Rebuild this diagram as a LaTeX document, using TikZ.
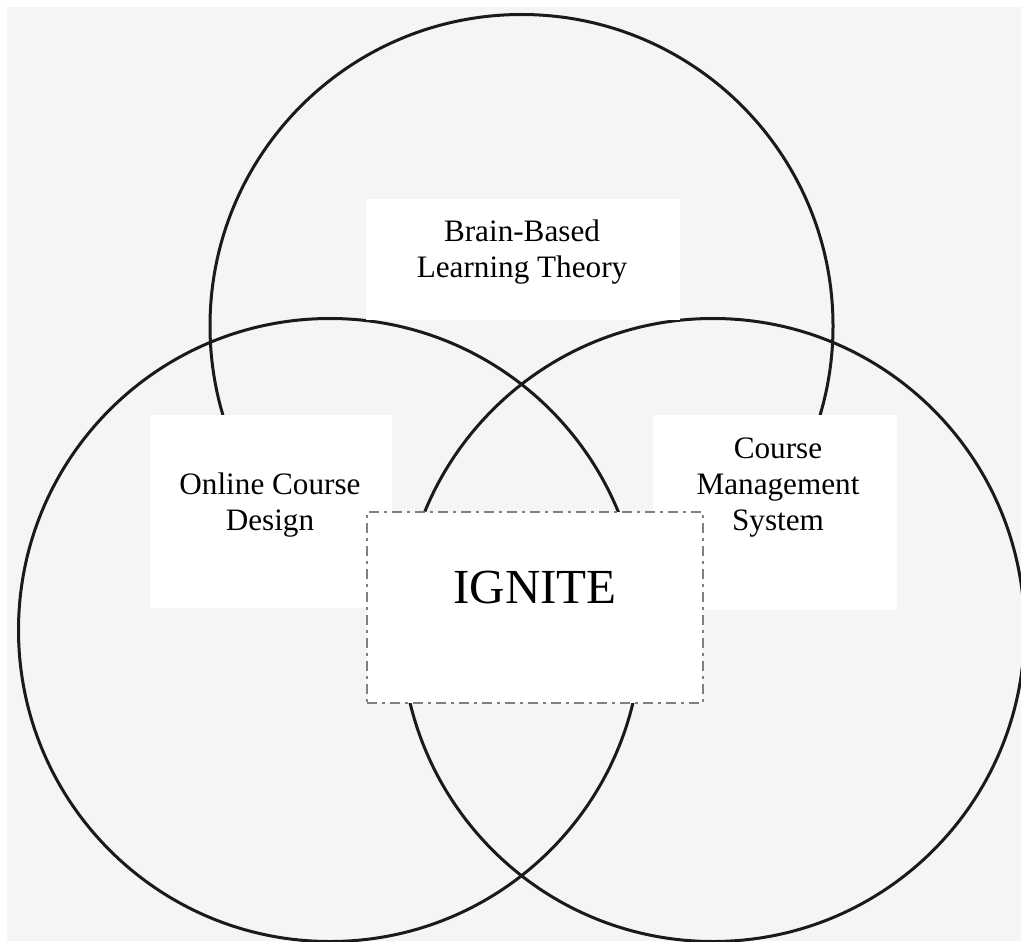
\documentclass[tikz,border=0pt]{standalone}
\usepackage{fontspec}
\setmainfont{Liberation Serif}
\definecolor{bggray}{HTML}{F5F5F5}
\definecolor{ringcol}{HTML}{1A1A1A}
\definecolor{dashgray}{HTML}{808080}
\begin{document}
\begin{tikzpicture}[x=0.5pt,y=-0.5pt,
  ring/.style={draw=ringcol, line width=1.5pt},
  whitebox/.style={fill=white, draw=none, inner sep=0pt},
  lbl/.style={font=\fontsize{15.6}{18}\selectfont, align=center, inner sep=0pt},
  ignitebox/.style={fill=white, draw=dashgray, line width=1pt, inner sep=0pt,
    dash pattern=on 5pt off 2.5pt on 1.5pt off 2.5pt},
  biglbl/.style={font=\fontsize{24.5}{28}\selectfont, inner sep=0pt}]
\useasboundingbox (0,0) rectangle (1021,941);
\fill[white] (0,0) rectangle (1021,941);
\fill[bggray] (7,7) rectangle (1021,941);
% circles
\draw[ring] (521.5,326) circle[radius=155.75pt];
\draw[ring] (330,630) circle[radius=155.75pt];
\draw[ring] (713,630) circle[radius=155.75pt];
% label boxes
\node[whitebox, minimum width=157pt, minimum height=60.5pt] (bbox) at (523,259.5) {};
\node[whitebox, minimum width=121pt, minimum height=96.5pt] (obox) at (271,511.5) {};
\node[whitebox, minimum width=122pt, minimum height=97.5pt] (cbox) at (775,512.5) {};
\node[ignitebox, minimum width=168pt, minimum height=95.5pt] (ibox) at (535,607.5) {};
% texts
\node[lbl] (btxt) at (522,252) {Brain-Based\\Learning Theory};
\node[lbl] (otxt) at (270,505) {Online Course\\Design};
\node[lbl] (ctxt) at (778,488) {Course\\Management\\System};
\node[biglbl, anchor=base] (itxt) at (535,603) {IGNITE};
\end{tikzpicture}
\end{document}
